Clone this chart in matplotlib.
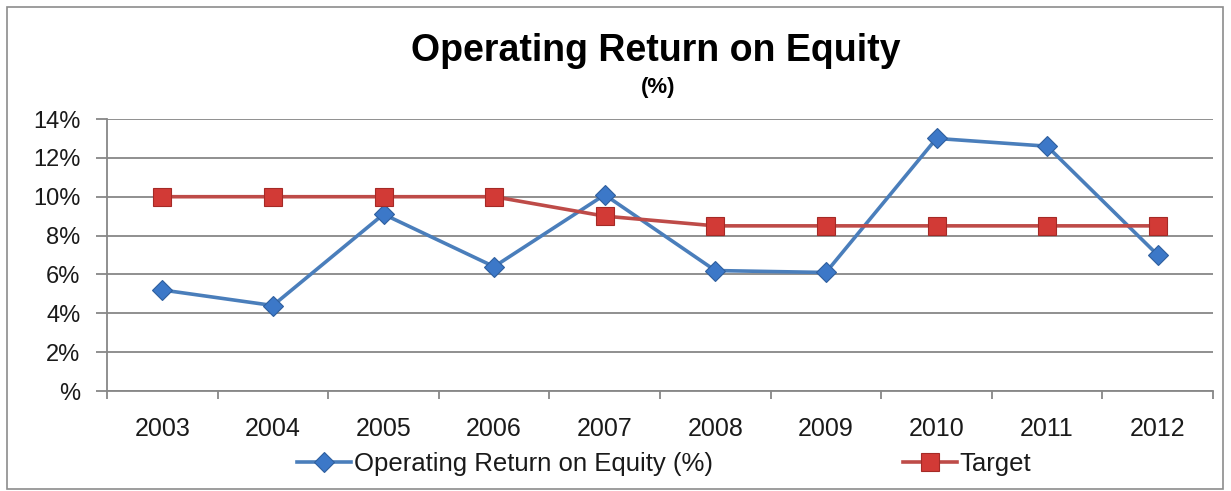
import matplotlib
matplotlib.use("Agg")
import matplotlib.pyplot as plt
from matplotlib.patches import Rectangle

years = ["2003", "2004", "2005", "2006", "2007", "2008", "2009", "2010", "2011", "2012"]
roe = [5.2, 4.4, 9.1, 6.4, 10.1, 6.2, 6.1, 13.0, 12.6, 7.0]
target = [10.0, 10.0, 10.0, 10.0, 9.0, 8.5, 8.5, 8.5, 8.5, 8.5]
ytick_vals = [0, 2, 4, 6, 8, 10, 12, 14]
ytick_labels = ["%", "2%", "4%", "6%", "8%", "10%", "12%", "14%"]

plt.rcParams['font.family'] = ['Liberation Sans', 'DejaVu Sans']

W, H = 1231, 491
fig = plt.figure(figsize=(W / 100, H / 100), dpi=100)
fig.patch.set_facecolor("white")

# outer chart border
fig.add_artist(Rectangle((7 / W, 2 / H), (1223 - 7) / W, (484 - 2) / H,
                         transform=fig.transFigure, fill=False,
                         edgecolor="#8c8c8c", linewidth=1.2))

ax = fig.add_axes([107 / W, (H - 391) / H, (1213 - 107) / W, (391 - 119) / H])
x = list(range(len(years)))

grid_c = "#878787"
txt_c = "#1a1a1a"
ax.set_ylim(0, 14)
ax.set_xlim(-0.5, len(years) - 0.5)
ax.set_yticks(ytick_vals)
ax.set_yticklabels(ytick_labels, fontsize=17, color=txt_c)
ax.yaxis.grid(True, color=grid_c, linewidth=1.3)
ax.set_axisbelow(True)

ax.set_xticks([i - 0.5 for i in range(len(years) + 1)])
ax.set_xticklabels([])
ax.set_xticks(x, minor=True)
ax.set_xticklabels(years, minor=True, fontsize=18, color=txt_c)
ax.tick_params(axis="x", which="major", length=6, color=grid_c, width=1.3)
ax.tick_params(axis="x", which="minor", length=0, pad=19)
ax.tick_params(axis="y", length=8, color=grid_c, width=1.3, pad=11)

for s in ["top", "right"]:
    ax.spines[s].set_visible(False)
for s in ["left", "bottom"]:
    ax.spines[s].set_color(grid_c)
    ax.spines[s].set_linewidth(1.3)

l1, = ax.plot(x, roe, color="#4a7ebb", linewidth=2.6, marker="D", markersize=10,
              markerfacecolor="#3c78c8", markeredgecolor="#2f5f9e", markeredgewidth=0.8,
              label="Operating Return on Equity (%)", zorder=3)
l2, = ax.plot(x, target, color="#be4b48", linewidth=2.6, marker="s", markersize=13,
              markerfacecolor="#d23a36", markeredgecolor="#a52a26", markeredgewidth=0.8,
              label="Target", zorder=3)

fig.text(656 / W, 1 - 51 / H, "Operating Return on Equity", ha="center", va="center",
         fontsize=27, fontweight="bold", color="black")
fig.text(658 / W, 1 - 88 / H, "(%)", ha="center", va="center",
         fontsize=16, fontweight="bold", color="black")

fig.legend(handles=[l1, l2], loc="center", bbox_to_anchor=(664 / W, 1 - 464 / H),
           ncol=2, frameon=False, fontsize=18.5, handlelength=2.1, handletextpad=0.12,
           columnspacing=7.4, labelcolor=txt_c)

fig.savefig("out.png", dpi=100, facecolor="white")
